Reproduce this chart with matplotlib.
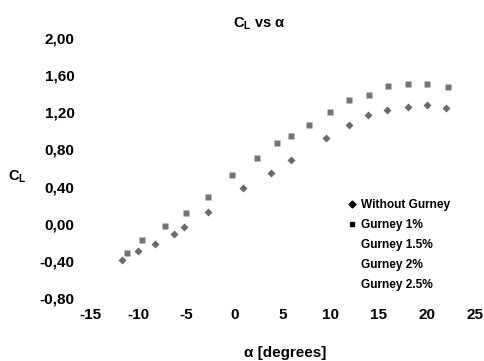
import matplotlib
matplotlib.use('Agg')
import matplotlib.pyplot as plt
from matplotlib.lines import Line2D
from matplotlib.ticker import FuncFormatter

plt.rcParams['font.family'] = ['Liberation Sans', 'DejaVu Sans']
plt.rcParams['font.weight'] = 'bold'
plt.rcParams['axes.unicode_minus'] = False
plt.rcParams['mathtext.fontset'] = 'custom'
plt.rcParams['mathtext.rm'] = 'Liberation Sans:bold'
plt.rcParams['mathtext.bf'] = 'Liberation Sans:bold'
plt.rcParams['mathtext.default'] = 'rm'

# angle of attack [deg] and lift coefficient
alpha_plain = [-11.7, -10.0, -8.2, -6.3, -5.2, -2.7, 0.9, 3.8, 5.9, 9.5,
               11.9, 13.9, 15.9, 18.0, 20.0, 22.0]
cl_plain = [-0.39, -0.29, -0.22, -0.11, -0.03, 0.13, 0.39, 0.55, 0.69, 0.92,
            1.06, 1.17, 1.22, 1.26, 1.28, 1.25]

alpha_g1 = [-11.2, -9.6, -7.2, -5.0, -2.7, -0.2, 2.4, 4.4, 5.9, 7.8, 9.9,
            11.9, 14.0, 16.0, 18.0, 20.0, 22.2]
cl_g1 = [-0.31, -0.18, -0.02, 0.12, 0.29, 0.53, 0.71, 0.87, 0.94, 1.06, 1.20,
         1.33, 1.39, 1.48, 1.51, 1.51, 1.47]

empty_series = ['Gurney 1.5%', 'Gurney 2%', 'Gurney 2.5%']

x_ticks = [-15, -10, -5, 0, 5, 10, 15, 20, 25]
y_ticks = [-0.8, -0.4, 0.0, 0.4, 0.8, 1.2, 1.6, 2.0]

fig = plt.figure(figsize=(4.84, 3.61), dpi=100)
ax = fig.add_axes([90 / 484, 1 - 298 / 361, 385 / 484, 260 / 361])

ax.plot(alpha_plain, cl_plain, ls='none', marker='D', ms=4.0,
        color='#6a6a6a', mec='none')
ax.plot(alpha_g1, cl_g1, ls='none', marker='s', ms=4.6,
        color='#747474', mec='none')

ax.set_xlim(-15, 25)
ax.set_ylim(-0.8, 2.0)
ax.set_xticks(x_ticks)
ax.set_yticks(y_ticks)
ax.yaxis.set_major_formatter(FuncFormatter(lambda v, p: f'{v:.2f}'.replace('.', ',')))
ax.tick_params(length=0, labelsize=11)
ax.tick_params(axis='x', pad=7)
ax.tick_params(axis='y', pad=11)
for s in ax.spines.values():
    s.set_visible(False)

handles = [Line2D([], [], ls='none', marker='D', ms=3.5, color='black'),
           Line2D([], [], ls='none', marker='s', ms=3.5, color='black')]
labels = ['Without Gurney', 'Gurney 1%']
for name in empty_series:
    handles.append(Line2D([], [], ls='none', marker='none'))
    labels.append(name)
ax.legend(handles, labels, loc='upper left', bbox_to_anchor=(348 / 484, 1 - 199 / 361),
          bbox_transform=fig.transFigure, frameon=False, fontsize=8.6,
          handlelength=0.6, handletextpad=0.5, labelspacing=0.66,
          borderpad=0, borderaxespad=0)

fig.text(259 / 484, 1 - 24 / 361, 'C$_{L}$ vs α', ha='center', va='center',
         fontsize=10.5, fontweight='bold')
fig.text(285 / 484, 1 - 353 / 361, 'α [degrees]', ha='center', va='center',
         fontsize=11, fontweight='bold')
fig.text(17 / 484, 1 - 177 / 361, 'C$_{L}$', ha='center', va='center',
         fontsize=10.5, fontweight='bold')

fig.savefig('out.png', dpi=100)
